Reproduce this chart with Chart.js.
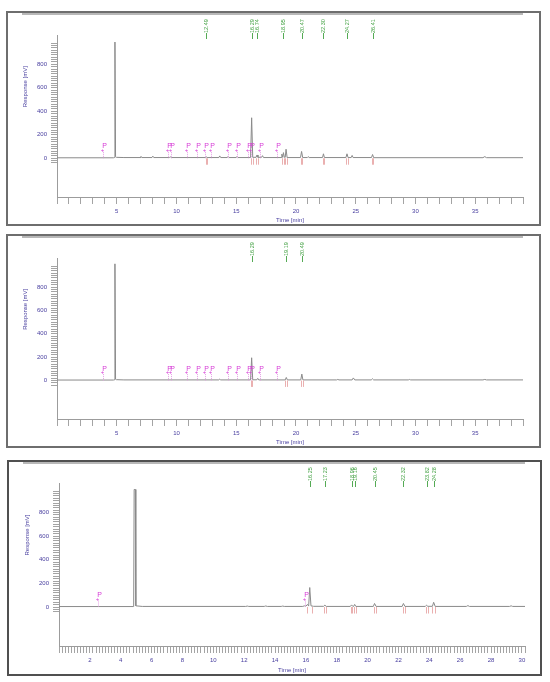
<!DOCTYPE html>
<html>
<head>
<meta charset="utf-8">
<script src="https://cdn.jsdelivr.net/npm/chart.js@4.4.0/dist/chart.umd.min.js"></script>
<style>
  body { margin: 0; background: #fff; width: 550px; height: 682px; position: relative; overflow: hidden; }
  .marco { position: absolute; border: 2px solid #6e6e6e; box-sizing: border-box; }
  .raya { position: absolute; height: 2px; background: #b8b8b8; }
  canvas { position: absolute; }
</style>
</head>
<body>
<div class="marco" style="left:6px;top:11px;width:535px;height:215px"></div>
<div class="raya" style="left:22px;top:13px;width:501px"></div>
<canvas id="c1" width="535" height="215" style="left:6px;top:11px"></canvas>

<div class="marco" style="left:6px;top:234px;width:535px;height:214px"></div>
<div class="raya" style="left:22px;top:236px;width:501px"></div>
<canvas id="c2" width="535" height="214" style="left:6px;top:234px"></canvas>

<div class="marco" style="left:7px;top:460px;width:535px;height:216px;border-color:#505050"></div>
<div class="raya" style="left:23px;top:462px;width:502px"></div>
<canvas id="c3" width="535" height="216" style="left:7px;top:460px"></canvas>

<script>
// ---- panel 1 ----
const tiempo1 = [0, 4.72, 4.8, 4.85, 4.9, 4.97, 5.6,
  6.95, 7.03, 7.1, 7.95, 8.02, 8.1, 9.4, 9.48, 9.56,
  12.42, 12.49, 12.56, 13.55, 13.62, 13.7, 14.25, 14.32, 14.4, 15.0, 15.07, 15.15,
  16.2, 16.29, 16.38, 16.66, 16.74, 16.82, 17.12, 17.2, 17.28,
  18.75, 18.82, 18.89, 18.95, 19.03, 19.1, 19.17, 19.26,
  20.38, 20.47, 20.56, 20.95, 21.02, 21.1, 22.22, 22.3, 22.38,
  24.18, 24.27, 24.36, 24.62, 24.7, 24.78, 26.32, 26.41, 26.5,
  35.65, 35.8, 35.95, 39]
const respuesta1 = [4, 4, 6, 990, 14, 8, 6,
  6, 16, 6, 6, 18, 6, 6, 12, 6,
  6, 12, 6, 6, 20, 6, 6, 16, 6, 6, 16, 6,
  6, 345, 8, 8, 28, 8, 8, 22, 6,
  6, 35, 8, 48, 8, 8, 77, 6,
  6, 58, 6, 6, 14, 6, 6, 38, 6,
  6, 38, 6, 6, 24, 6, 6, 32, 5,
  5, 14, 5, 5]
const picos1 = [12.49, 16.29, 16.74, 18.95, 20.47, 22.30, 24.27, 26.41]
const marcas1 = [3.85, 9.3, 9.55, 10.9, 11.7, 12.4, 12.9, 14.3, 15.1, 16.0, 16.2, 17.0, 18.4]
const limites1 = [12.44, 12.55, 16.2, 16.38, 16.66, 16.8, 18.85, 19.0, 19.1, 19.25,
  20.4, 20.54, 22.24, 22.37, 24.2, 24.34, 26.35, 26.48]

// ---- panel 2 ----
const tiempo2 = [0, 4.72, 4.8, 4.85, 4.9, 4.97, 5.6,
  13.55, 13.62, 13.7, 16.2, 16.29, 16.38, 16.72, 16.8, 16.88,
  19.1, 19.19, 19.28, 20.4, 20.49, 20.58, 23.4, 23.5, 23.6,
  24.7, 24.8, 24.92, 26.3, 26.4, 26.5, 29.4, 29.5, 29.6,
  35.65, 35.8, 35.95, 39]
const respuesta2 = [4, 4, 6, 1000, 12, 7, 5,
  5, 12, 5, 5, 195, 6, 6, 18, 5,
  5, 26, 5, 5, 55, 5, 5, 9, 5,
  5, 22, 5, 5, 15, 5, 5, 9, 5,
  5, 9, 5, 5]
const picos2 = [16.29, 19.19, 20.49]
const marcas2 = [3.85, 9.3, 9.55, 10.9, 11.7, 12.4, 12.9, 14.3, 15.1, 16.0, 16.2, 17.0, 18.4]
const limites2 = [16.2, 16.36, 19.12, 19.26, 20.42, 20.55]

// ---- panel 3 ----
const tiempo3 = [0, 4.8, 4.84, 4.87, 4.95, 4.98, 5.4,
  12.1, 12.2, 12.3, 13.3, 13.4, 13.5, 14.4, 14.5, 14.6,
  15.8, 15.9, 16.0, 16.1, 16.18, 16.25, 16.33, 16.5,
  17.15, 17.23, 17.32, 18.88, 18.96, 19.04, 19.1, 19.16, 19.24,
  20.37, 20.45, 20.55, 22.24, 22.32, 22.42,
  23.74, 23.82, 23.9, 24.2, 24.28, 24.38,
  26.4, 26.5, 26.6, 29.2, 29.3, 29.4, 30.2]
const respuesta3 = [4, 4, 6, 995, 995, 10, 5,
  5, 8, 5, 5, 9, 5, 5, 8, 5,
  5, 10, 7, 22, 8, 165, 10, 6,
  6, 16, 5, 5, 18, 6, 6, 22, 5,
  5, 30, 5, 5, 30, 5,
  5, 16, 6, 6, 40, 5,
  5, 12, 5, 5, 10, 5, 5]
const picos3 = [16.25, 17.23, 18.96, 19.16, 20.45, 22.32, 23.82, 24.28]
const marcas3 = [2.55, 15.95]
const limites3 = [16.1, 16.4, 17.18, 17.3, 18.9, 19.02, 19.12, 19.22, 20.4, 20.52,
  22.27, 22.4, 23.78, 23.9, 24.2, 24.35]

// etiquetas de los ejes
const etiquetasY = [0, 200, 400, 600, 800]
const etiquetasX1 = [5, 10, 15, 20, 25, 30, 35]
const etiquetasX3 = [2, 4, 6, 8, 10, 12, 14, 16, 18, 20, 22, 24, 26, 28, 30]

const azul = '#4a40a0'
const fuente = { family: 'Liberation Sans, Arial, sans-serif', size: 6 }

const adornos = {
  id: 'adornos',
  afterDatasetsDraw(chart, args, op) {
    const ctx = chart.ctx
    const x = chart.scales.x, y = chart.scales.y
    const top = chart.chartArea.top
    const px = t => Math.round(x.getPixelForValue(t)) + 0.5
    ctx.save()
    ctx.lineWidth = 1

    // limites de los picos (rosa)
    ctx.strokeStyle = '#eab0b0'
    op.limites.forEach(t => {
      ctx.beginPath()
      ctx.moveTo(px(t), y.getPixelForValue(0))
      ctx.lineTo(px(t), y.getPixelForValue(-55))
      ctx.stroke()
    })

    // marcas P
    ctx.textAlign = 'center'
    ctx.textBaseline = 'middle'
    op.marcas.forEach(t => {
      ctx.strokeStyle = '#e6a0e6'
      ctx.setLineDash([1, 1])
      ctx.beginPath()
      ctx.moveTo(px(t), y.getPixelForValue(55))
      ctx.lineTo(px(t), y.getPixelForValue(0))
      ctx.stroke()
      ctx.setLineDash([])
      ctx.fillStyle = '#d63ad6'
      ctx.font = '7px "Liberation Sans", Arial'
      ctx.fillText('P', px(t) + 1, y.getPixelForValue(100))
      ctx.font = '6px "Liberation Sans", Arial'
      ctx.fillText('+', px(t) - 1, y.getPixelForValue(66))
    })

    // tiempos de retencion (verde)
    ctx.fillStyle = '#3f9f3f'
    ctx.strokeStyle = '#55aa55'
    ctx.font = '5.5px "Liberation Sans", Arial'
    op.picos.forEach(t => {
      ctx.beginPath()
      ctx.moveTo(px(t), top - 2)
      ctx.lineTo(px(t), top + 4)
      ctx.stroke()
      ctx.save()
      ctx.translate(px(t), top - 2)
      ctx.rotate(-Math.PI / 2)
      ctx.textAlign = 'left'
      ctx.fillText(t.toFixed(2), 0, 0)
      ctx.restore()
    })

    // titulo del eje y
    ctx.fillStyle = azul
    ctx.font = '6px "Liberation Sans", Arial'
    ctx.translate(op.tituloX, y.getPixelForValue(610))
    ctx.rotate(-Math.PI / 2)
    ctx.textAlign = 'center'
    ctx.fillText('Response [mV]', 0, 0)
    ctx.restore()
  }
}

function grafico(id, tiempo, respuesta, picos, marcas, limites, xMax, div, etiquetasX, area) {
  const ticksX = []
  for (let i = 0; i <= Math.round(xMax * div); i++) ticksX.push(i / div)
  const ticksY = []
  for (let v = -40; v <= 980; v += 20) ticksY.push(v)

  const datos = tiempo.map((t, i) => ({ x: t, y: respuesta[i] }))

  new Chart(document.getElementById(id), {
    type: 'line',
    data: {
      datasets: [{
        data: datos,
        borderColor: '#8a8a8a',
        borderWidth: 1,
        pointRadius: 0,
        tension: 0
      }]
    },
    options: {
      responsive: false,
      animation: false,
      devicePixelRatio: 1,
      layout: { padding: { left: 0, right: area.right, top: area.top, bottom: 0 } },
      plugins: {
        legend: { display: false },
        tooltip: { enabled: false },
        adornos: { picos: picos, marcas: marcas, limites: limites, tituloX: area.tituloX }
      },
      scales: {
        x: {
          type: 'linear',
          min: 0,
          max: xMax,
          afterBuildTicks: ax => { ax.ticks = ticksX.map(v => ({ value: v })) },
          afterFit: ax => { ax.height = area.xAlto },
          grid: { drawOnChartArea: false, tickLength: 7, color: '#a4a4a4' },
          border: { color: '#9c9c9c' },
          ticks: {
            autoSkip: false,
            maxRotation: 0,
            padding: 4,
            color: azul,
            font: fuente,
            callback: v => etiquetasX.includes(v) ? String(v) : ''
          },
          title: { display: true, text: 'Time [min]', color: azul, font: fuente, padding: { top: 0, bottom: 2 } }
        },
        y: {
          min: -330,
          max: 1050,
          afterBuildTicks: ax => { ax.ticks = ticksY.map(v => ({ value: v })) },
          afterFit: ax => { ax.width = area.yAncho },
          grid: { drawOnChartArea: false, tickLength: 6, color: '#a4a4a4' },
          border: { color: '#9c9c9c' },
          ticks: {
            autoSkip: false,
            padding: 4,
            color: azul,
            font: fuente,
            callback: v => etiquetasY.includes(v) ? String(v) : ''
          }
        }
      }
    },
    plugins: [adornos]
  })
}

window.onload = function () {
  grafico('c1', tiempo1, respuesta1, picos1, marcas1, limites1, 39, 1, etiquetasX1,
    { yAncho: 51, right: 18, top: 24, xAlto: 29, tituloX: 19 })
  grafico('c2', tiempo2, respuesta2, picos2, marcas2, limites2, 39, 1, etiquetasX1,
    { yAncho: 51, right: 18, top: 24, xAlto: 29, tituloX: 19 })
  grafico('c3', tiempo3, respuesta3, picos3, marcas3, limites3, 30.2, 5, etiquetasX3,
    { yAncho: 52, right: 17, top: 23, xAlto: 30, tituloX: 20 })
}
</script>
</body>
</html>
